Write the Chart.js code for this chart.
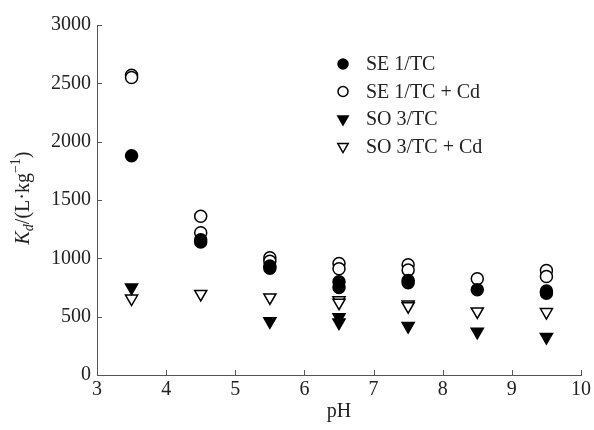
<!DOCTYPE html>
<html>
<head>
<meta charset="utf-8">
<script src="https://cdn.jsdelivr.net/npm/chart.js@4.4.1/dist/chart.umd.min.js"></script>
<style>
  html, body { margin: 0; padding: 0; background: #fff; }
  #wrap { width: 594px; height: 430px; position: relative; }
</style>
</head>
<body>
<div id="wrap"><canvas id="kdChart"></canvas></div>
<script>
// --- data ---
const seriesNames = ["SE 1/TC", "SE 1/TC + Cd", "SO 3/TC", "SO 3/TC + Cd"];

const se1X = [3.5, 4.5, 4.5, 5.5, 5.5, 6.5, 6.5, 7.5, 7.5, 8.5, 9.5, 9.5];
const se1Y = [1880, 1160, 1140, 935, 915, 800, 750, 810, 790, 730, 720, 700];

const se1CdX = [3.5, 3.5, 4.5, 4.5, 5.5, 5.5, 6.5, 6.5, 7.5, 7.5, 8.5, 9.5, 9.5];
const se1CdY = [2570, 2550, 1360, 1220, 1005, 975, 955, 910, 945, 900, 825, 895, 845];

const so3X = [3.5, 5.5, 6.5, 6.5, 7.5, 8.5, 9.5];
const so3Y = [750, 460, 495, 450, 420, 370, 325];

const so3CdX = [3.5, 4.5, 5.5, 6.5, 6.5, 7.5, 7.5, 8.5, 9.5];
const so3CdY = [655, 695, 665, 640, 620, 605, 590, 545, 540];

const xTicks = [3, 4, 5, 6, 7, 8, 9, 10];
const yTicks = [0, 500, 1000, 1500, 2000, 2500, 3000];

const SERIF = "'Liberation Serif', 'DejaVu Serif', serif";
const INK = '#222';
const AXIS = '#555';
const FS = 20;

function pts(xs, ys) {
  return xs.map((x, i) => ({ x: x, y: ys[i] }));
}

function ds(label, xs, ys, style, filled) {
  const isTri = style === 'triangle';
  return {
    label: label,
    data: pts(xs, ys),
    pointStyle: style,
    rotation: isTri ? 180 : 0,
    pointRadius: isTri ? 7 : 6,
    pointBorderWidth: 1.5,
    borderColor: '#000',
    backgroundColor: filled ? '#000' : '#fff',
    pointBackgroundColor: filled ? '#000' : '#fff',
    pointBorderColor: '#000',
    showLine: false
  };
}

// small inward ticks on both axes
const inwardTicks = {
  id: 'inwardTicks',
  afterDraw(chart) {
    const { ctx, scales: { x, y } } = chart;
    ctx.save();
    ctx.strokeStyle = AXIS;
    ctx.lineWidth = 1;
    xTicks.forEach(v => {
      const px = Math.round(x.getPixelForValue(v)) + 0.5;
      ctx.beginPath();
      ctx.moveTo(px, y.bottom);
      ctx.lineTo(px, y.bottom - 5);
      ctx.stroke();
    });
    yTicks.forEach(v => {
      const py = Math.round(y.getPixelForValue(v)) + 0.5;
      ctx.beginPath();
      ctx.moveTo(x.left, py);
      ctx.lineTo(x.left + 5, py);
      ctx.stroke();
    });
    ctx.restore();
  }
};

// legend inside the plot, plus the y title with sub/superscript
const annotations = {
  id: 'annotations',
  afterDraw(chart) {
    const ctx = chart.ctx;
    ctx.save();
    // legend
    const lx = 343, ly0 = 64, step = 27.5;
    chart.data.datasets.forEach((d, i) => {
      const y = ly0 + i * step;
      ctx.fillStyle = d.pointBackgroundColor;
      ctx.strokeStyle = '#000';
      ctx.lineWidth = 1.5;
      Chart.helpers.drawPoint(ctx, {
        pointStyle: d.pointStyle,
        rotation: d.rotation,
        radius: d.pointStyle === 'triangle' ? 6 : 5,
        borderWidth: 1.5
      }, lx, y);
      ctx.fillStyle = INK;
      ctx.font = FS + "px " + SERIF;
      ctx.textBaseline = 'middle';
      ctx.textAlign = 'left';
      ctx.fillText(d.label, lx + 23, y + 1);
    });

    // y axis title: K_d/(L·kg^-1)
    const parts = [
      { t: 'K', f: "italic " + FS + "px " + SERIF, dy: 0 },
      { t: 'd', f: "italic 14px " + SERIF, dy: 5 },
      { t: '/(L\u00B7kg', f: FS + "px " + SERIF, dy: 0 },
      { t: '\u22121', f: "14px " + SERIF, dy: -8 },
      { t: ')', f: FS + "px " + SERIF, dy: 0 }
    ];
    let total = 0;
    parts.forEach(p => { ctx.font = p.f; p.w = ctx.measureText(p.t).width; total += p.w; });
    ctx.translate(24, 198);
    ctx.rotate(-Math.PI / 2);
    ctx.fillStyle = INK;
    ctx.textBaseline = 'middle';
    ctx.textAlign = 'left';
    let cx = -total / 2;
    parts.forEach(p => {
      ctx.font = p.f;
      ctx.fillText(p.t, cx, p.dy);
      cx += p.w;
    });
    ctx.restore();
  }
};

new Chart(document.getElementById('kdChart'), {
  type: 'scatter',
  data: {
    datasets: [
      ds(seriesNames[0], se1X, se1Y, 'circle', true),
      ds(seriesNames[1], se1CdX, se1CdY, 'circle', false),
      ds(seriesNames[2], so3X, so3Y, 'triangle', true),
      ds(seriesNames[3], so3CdX, so3CdY, 'triangle', false)
    ]
  },
  options: {
    responsive: true,
    maintainAspectRatio: false,
    animation: false,
    layout: { padding: { top: 25, right: 11, left: 0, bottom: 0 } },
    plugins: {
      legend: { display: false },
      tooltip: { enabled: false }
    },
    scales: {
      x: {
        type: 'linear',
        min: 3, max: 10,
        afterBuildTicks: s => { s.ticks = xTicks.map(v => ({ value: v })); },
        afterFit: s => { s.height = 55; },
        grid: { display: false, drawTicks: false },
        border: { display: true, color: AXIS, width: 1 },
        ticks: { color: INK, padding: 3, font: { family: SERIF, size: FS }, maxRotation: 0,
                 callback: v => String(v) },
        title: { display: true, text: 'pH', color: INK, padding: { top: 0, bottom: 6 }, font: { family: SERIF, size: FS } }
      },
      y: {
        type: 'linear',
        min: 0, max: 3000,
        afterBuildTicks: s => { s.ticks = yTicks.map(v => ({ value: v })); },
        afterFit: s => { s.width = 97; },
        grid: { display: false, drawTicks: false },
        border: { display: true, color: AXIS, width: 1 },
        ticks: { color: INK, padding: 6, font: { family: SERIF, size: FS },
                 callback: v => String(v) }
      }
    }
  },
  plugins: [inwardTicks, annotations]
});
</script>
</body>
</html>
